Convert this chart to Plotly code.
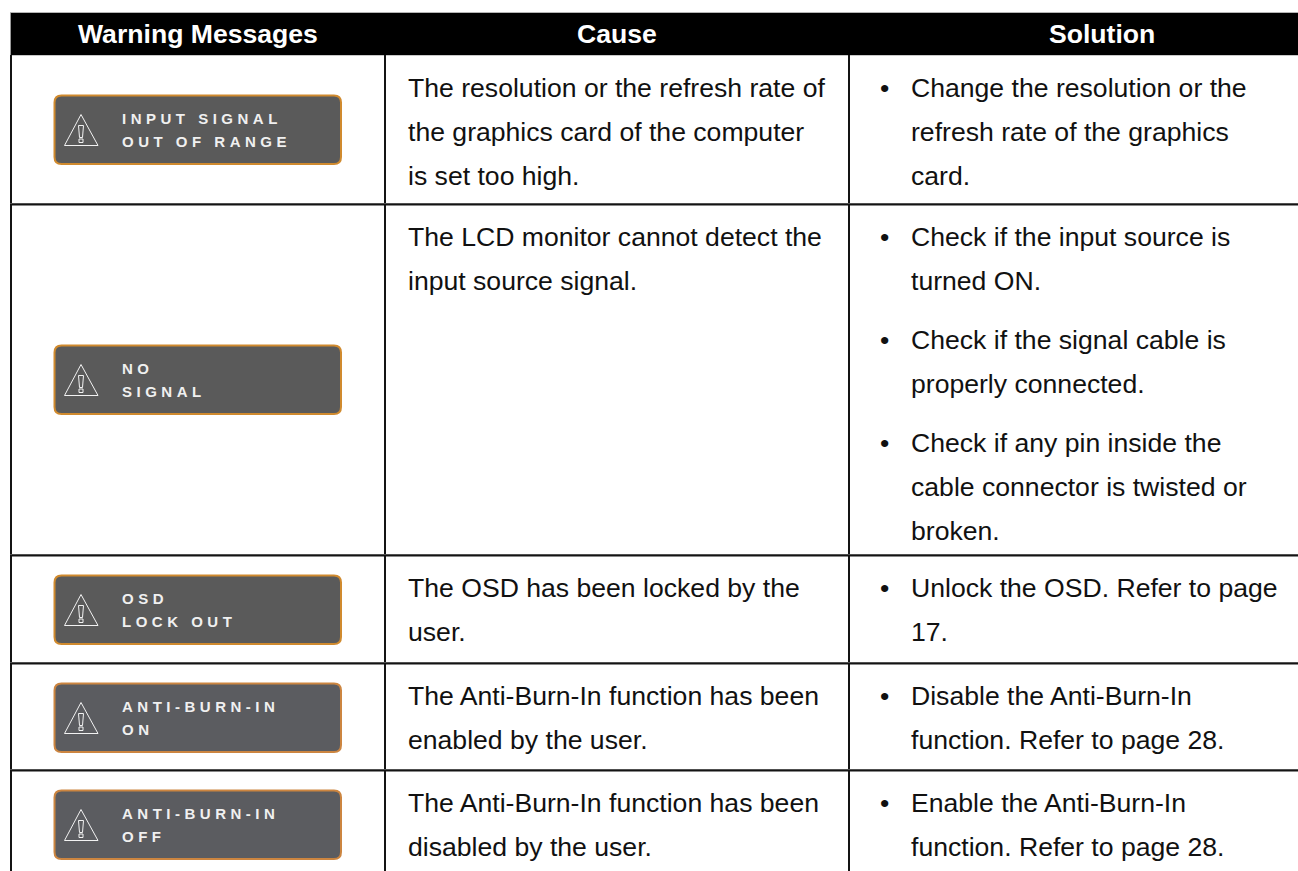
import plotly.graph_objects as go

# ---------- content ----------
HEADERS = ["Warning Messages", "Cause", "Solution"]
MESSAGES = [
    ["INPUT SIGNAL", "OUT OF RANGE"],
    ["NO", "SIGNAL"],
    ["OSD", "LOCK OUT"],
    ["ANTI-BURN-IN", "ON"],
    ["ANTI-BURN-IN", "OFF"],
]
CAUSES = [
    ["The resolution or the refresh rate of", "the graphics card of the computer", "is set too high."],
    ["The LCD monitor cannot detect the", "input source signal."],
    ["The OSD has been locked by the", "user."],
    ["The Anti-Burn-In function has been", "enabled by the user."],
    ["The Anti-Burn-In function has been", "disabled by the user."],
]
SOLUTIONS = [
    [["Change the resolution or the", "refresh rate of the graphics", "card."]],
    [["Check if the input source is", "turned ON."],
     ["Check if the signal cable is", "properly connected."],
     ["Check if any pin inside the", "cable connector is twisted or", "broken."]],
    [["Unlock the OSD. Refer to page", "17."]],
    [["Disable the Anti-Burn-In", "function. Refer to page 28."]],
    [["Enable the Anti-Burn-In", "function. Refer to page 28."]],
]

# ---------- layout geometry (pixels) ----------
W, H = 1298, 871
FONT = "Liberation Sans, Arial, sans-serif"
TOP, HEAD_B = 13, 55
ROW_LINES = [204.5, 555.5, 663.5, 770.5]
COL_LINES = [11, 385, 849]
HEAD_X = [197.5, 617, 1102]
FIRST_Y = [88, 237, 588, 696, 803]
PITCH, PARA_GAP = 44, 59
BADGE_TOP = [95.5, 345.5, 575.5, 683.5, 790.5]
BADGE_COLORS = ["#5a5a5a", "#5a5a5a", "#5a5a5a", "#5b5c60", "#5b5c60"]
BORDER_COLORS = ["#d08a2e", "#d08a2e", "#d08a2e", "#cc8540", "#cc8540"]
BX0, BX1, BH, BR = 54.5, 341, 68.5, 7
CAUSE_X, BULLET_X, SOL_X = 408, 879.5, 911
TXT = "#111111"
BODY = 26.6

shapes, ann = [], []


def line(x0, y0, x1, y1, color="#141414", w=2):
    shapes.append(dict(type="line", x0=x0, y0=y0, x1=x1, y1=y1, line=dict(color=color, width=w)))


def text(x, y, s, size=BODY, color=TXT, bold=False, anchor="left"):
    ann.append(dict(x=x, y=y, xref="x", yref="y", text=s, showarrow=False, xanchor=anchor,
                    yanchor="middle", align=anchor if anchor != "center" else "center",
                    borderpad=0, borderwidth=0,
                    font=dict(family=FONT, size=size, color=color, weight=700 if bold else 400)))


# header band
shapes.append(dict(type="rect", x0=10, x1=W, y0=TOP, y1=HEAD_B, fillcolor="#000000", line=dict(width=0)))
line(10, TOP - 0.5, W, TOP - 0.5, "#b5b5b5", 1)
line(10, HEAD_B + 0.5, W, HEAD_B + 0.5, "#c8c8c8", 1)
for s, x in zip(HEADERS, HEAD_X):
    text(x, 34, s, size=26.6, color="#ffffff", bold=True, anchor="center")

# grid
line(10.5, TOP, 10.5, H, "#9a9a9a", 1)
for x in COL_LINES:
    line(x, HEAD_B, x, H)
for y in ROW_LINES:
    line(10, y - 1, W, y - 1, "#8c8c8c", 1)
    line(10, y, W, y)

# badges
for top, msg, fill, border in zip(BADGE_TOP, MESSAGES, BADGE_COLORS, BORDER_COLORS):
    b = top + BH
    path = (f"M{BX0 + BR},{top} L{BX1 - BR},{top} Q{BX1},{top} {BX1},{top + BR} L{BX1},{b - BR} "
            f"Q{BX1},{b} {BX1 - BR},{b} L{BX0 + BR},{b} Q{BX0},{b} {BX0},{b - BR} L{BX0},{top + BR} "
            f"Q{BX0},{top} {BX0 + BR},{top} Z")
    shapes.append(dict(type="path", path=path, fillcolor=fill, line=dict(color=border, width=2)))
    white = dict(color="#f2f2f2", width=1)
    shapes.append(dict(type="path", path=f"M81,{top + 19} L98,{top + 50} L64.5,{top + 50} Z",
                       line=white, fillcolor="rgba(0,0,0,0)"))
    shapes.append(dict(type="path",
                       path=f"M78.5,{top + 30} L83.5,{top + 30} L82.5,{top + 42} L79.5,{top + 42} Z",
                       line=white, fillcolor="rgba(0,0,0,0)"))
    shapes.append(dict(type="rect", x0=79, x1=83, y0=top + 43.5, y1=top + 47,
                       line=white, fillcolor="rgba(0,0,0,0)"))
    text(122, top + 22.5, msg[0], size=15, color="#f0f0f0", bold=True)
    text(122, top + 45.5, msg[1], size=15, color="#f0f0f0", bold=True)

# cause column
for y0, lines in zip(FIRST_Y, CAUSES):
    for i, s in enumerate(lines):
        text(CAUSE_X, y0 + i * PITCH, s)

# solution column
for y0, paras in zip(FIRST_Y, SOLUTIONS):
    y = y0
    for para in paras:
        text(BULLET_X, y, "\u2022")
        for s in para:
            text(SOL_X, y, s)
            y += PITCH
        y += PARA_GAP - PITCH

fig = go.Figure()
fig.update_layout(
    width=W, height=H, margin=dict(l=0, r=0, t=0, b=0), autosize=False,
    paper_bgcolor="#ffffff", plot_bgcolor="#ffffff", showlegend=False,
    xaxis=dict(range=[0, W], visible=False, fixedrange=True),
    yaxis=dict(range=[H, 0], visible=False, fixedrange=True),
    shapes=shapes, annotations=ann,
)

POST = """
document.body.style.margin = '0';
document.body.style.overflow = 'hidden';
document.querySelectorAll('.annotation-text').forEach(function (t) {
  if (/^[A-Z\\- ]+$/.test(t.textContent)) { t.style.letterSpacing = '4.5px'; }
});
"""
fig.write_html("out.html", config=dict(displayModeBar=False), post_script=POST)
